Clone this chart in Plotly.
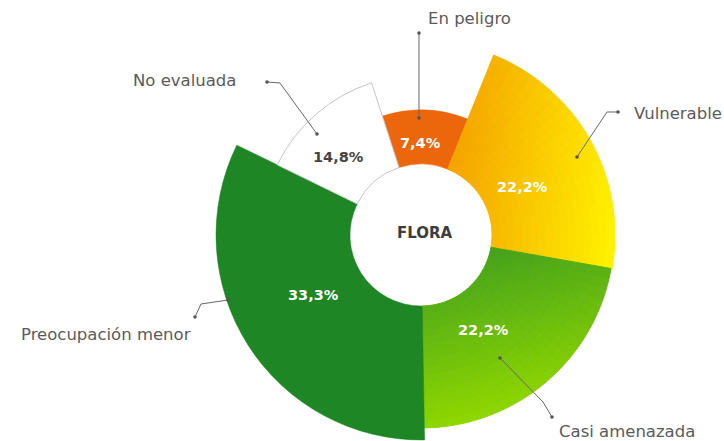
import plotly.graph_objects as go
import numpy as np

# ---------------- data ----------------
categorias = ["En peligro", "Vulnerable", "Casi amenazada", "Preocupación menor", "No evaluada"]
porcentajes = [7.4, 22.2, 22.2, 33.3, 14.8]
etiquetas_pct = ["7,4%", "22,2%", "22,2%", "33,3%", "14,8%"]
# angular extent of each wedge (degrees) and outer radius
arco_grados = [40, 78, 79, 117, 46]
radio_exterior = [125, 194, 193, 205, 160]
radio_interior = 71
inicio_grados = -18
titulo_centro = "FLORA"

# ---------------- styles ----------------
W, H = 724, 441
CX, CY = 421, 235
RMAX = 206
FONT = "DejaVu Sans"

def px(x, y):
    return x / W, 1 - y / H

def hex2rgb(h):
    h = h.lstrip("#")
    return np.array([int(h[i:i + 2], 16) for i in (0, 2, 4)], float)

def mix(c1, c2, t):
    c = hex2rgb(c1) * (1 - t) + hex2rgb(c2) * t
    return "rgb(%d,%d,%d)" % tuple(np.round(c).astype(int))

estilos = [
    {"solid": "#EC660C"},
    {"grad": ("#F4A300", "#FFF000", (1.0, 0.1))},
    {"grad": ("#46A21C", "#8ED600", (0.25, 1.0))},
    {"solid": "#1E8624"},
    {"solid": "#FFFFFF", "line": "#C4C4C4"},
]

centros = []
acc = inicio_grados
for a in arco_grados:
    centros.append(acc + a / 2)
    acc += a

fig = go.Figure()

for i, cat in enumerate(categorias):
    est = estilos[i]
    largo = radio_exterior[i] - radio_interior
    if "solid" in est:
        fig.add_trace(go.Barpolar(
            r=[largo], theta=[centros[i]], width=[arco_grados[i]], base=[radio_interior],
            marker=dict(color=est["solid"],
                        line=dict(color=est.get("line", est["solid"]), width=1 if "line" in est else 0.5)),
            name=cat, showlegend=False, hoverinfo="skip"))
    else:
        c1, c2, d = est["grad"]
        d = np.array(d) / np.hypot(*d)
        na, nr = 24, 16
        a0 = centros[i] - arco_grados[i] / 2
        da = arco_grados[i] / na
        dr = largo / nr
        rs, ths, bases, proj = [], [], [], []
        for ia in range(na):
            for ir in range(nr):
                th = a0 + da * (ia + 0.5)
                b = radio_interior + dr * ir
                rm = b + dr / 2
                x = rm * np.sin(np.radians(th))
                y = -rm * np.cos(np.radians(th))
                rs.append(dr)
                ths.append(th)
                bases.append(b)
                proj.append(x * d[0] + y * d[1])
        proj = np.array(proj)
        t = (proj - proj.min()) / (proj.max() - proj.min())
        cols = [mix(c1, c2, v) for v in t]
        fig.add_trace(go.Barpolar(
            r=rs, theta=ths, width=[da] * len(rs), base=bases,
            marker=dict(color=cols, line=dict(color=cols, width=1)),
            name=cat, showlegend=False, hoverinfo="skip"))

fig.update_layout(
    width=W, height=H,
    margin=dict(l=0, r=0, t=0, b=0),
    paper_bgcolor="white",
    polar=dict(
        domain=dict(x=[(CX - RMAX) / W, (CX + RMAX) / W], y=[1 - (CY + RMAX) / H, 1 - (CY - RMAX) / H]),
        bgcolor="rgba(0,0,0,0)",
        bargap=0,
        radialaxis=dict(range=[0, RMAX], visible=False, showgrid=False),
        angularaxis=dict(direction="clockwise", rotation=90, visible=False, showgrid=False),
    ),
)

annotations = []
pct_pos = [(420, 143), (522, 187), (484, 330), (313, 295), (338, 157)]
pct_col = ["white", "white", "white", "white", "#444444"]
for (x, y), txt, col in zip(pct_pos, etiquetas_pct, pct_col):
    xx, yy = px(x, y)
    annotations.append(dict(x=xx, y=yy, xref="paper", yref="paper", text="<b>%s</b>" % txt,
                            xanchor="center", yanchor="middle",
                            showarrow=False, font=dict(family=FONT, size=14.5, color=col)))
xx, yy = px(425, 233)
annotations.append(dict(x=xx, y=yy, xref="paper", yref="paper", text="<b>%s</b>" % titulo_centro,
                        xanchor="center", yanchor="middle",
                        showarrow=False, font=dict(family=FONT, size=15, color="#3D3D3D")))
cat_pos = [(470, 18, "center"), (632, 113, "left"), (557, 431, "left"), (193, 334, "right"), (238, 81, "right")]
for (x, y, anc), txt in zip(cat_pos, categorias):
    xx, yy = px(x, y)
    annotations.append(dict(x=xx, y=yy, xref="paper", yref="paper", text=txt, xanchor=anc, yanchor="middle",
                            showarrow=False, font=dict(family=FONT, size=16.5, color="#5A5A5A")))
fig.update_layout(annotations=annotations)

leaders = [
    [(419, 33), (419, 118)],
    [(618, 112), (607, 112), (577, 157)],
    [(500, 358), (543, 402), (552, 417)],
    [(228, 300), (201, 304), (195, 317)],
    [(267, 82), (280, 83), (317, 134)],
]
shapes = []
for pts in leaders:
    path = ""
    for k, (x, y) in enumerate(pts):
        xx, yy = px(x, y)
        path += ("M" if k == 0 else "L") + " %f %f " % (xx, yy)
    shapes.append(dict(type="path", path=path, xref="paper", yref="paper",
                       line=dict(color="#666666", width=1)))
    for (x, y) in (pts[0], pts[-1]):
        x0, y0 = px(x - 1.8, y - 1.8)
        x1, y1 = px(x + 1.8, y + 1.8)
        shapes.append(dict(type="circle", xref="paper", yref="paper", x0=x0, y0=y0, x1=x1, y1=y1,
                           fillcolor="#555555", line=dict(width=0)))
fig.update_layout(shapes=shapes)

fig.write_html("out.html", config={"displayModeBar": False},
               post_script="document.body.style.margin='0';document.body.style.overflow='hidden';")
